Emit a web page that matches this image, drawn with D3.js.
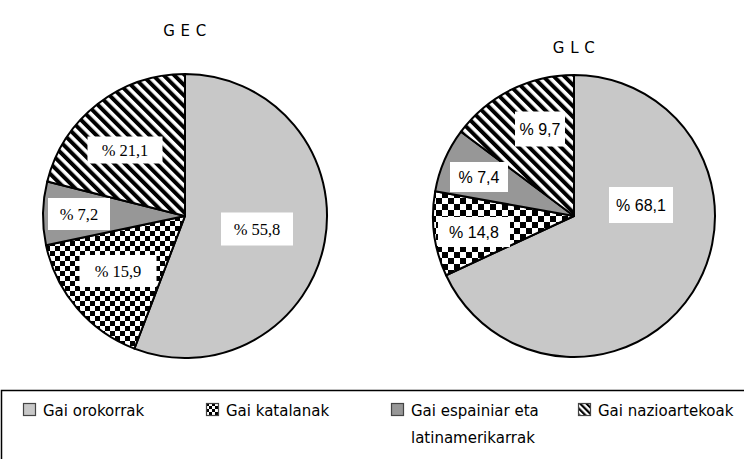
<!DOCTYPE html>
<html><head><meta charset="utf-8">
<script src="https://cdn.jsdelivr.net/npm/d3@7"></script>
<style>html,body{margin:0;padding:0;background:#fff;}svg{display:block;}</style>
</head><body>
<svg id="c" width="744" height="459"></svg>
<script>
// ---- data ----
const categories = ["Gai orokorrak", "Gai katalanak", "Gai espainiar eta latinamerikarrak", "Gai nazioartekoak"];
const legendLines = [["Gai orokorrak"], ["Gai katalanak"], ["Gai espainiar eta", "latinamerikarrak"], ["Gai nazioartekoak"]];
const chartTitles = ["G E C", "G L C"];
// slice sizes as drawn in the picture
const gecValues = [55.8, 15.9, 7.2, 21.1];
const glcValues = [68.1, 9.7, 7.4, 14.8];
// label texts as printed in the picture
const gecLabels = ["% 55,8", "% 15,9", "% 7,2", "% 21,1"];
const glcLabels = ["% 68,1", "% 14,8", "% 7,4", "% 9,7"];

// ---- layout ----
const svg = d3.select("#c");
const defs = svg.append("defs");

function checker(id, s) {
  const p = defs.append("pattern").attr("id", id).attr("patternUnits", "userSpaceOnUse")
    .attr("width", 2 * s).attr("height", 2 * s);
  p.append("rect").attr("width", 2 * s).attr("height", 2 * s).attr("fill", "#fff");
  p.append("rect").attr("width", s).attr("height", s).attr("fill", "#000");
  p.append("rect").attr("x", s).attr("y", s).attr("width", s).attr("height", s).attr("fill", "#000");
}
function stripes(id, s, w) {
  const p = defs.append("pattern").attr("id", id).attr("patternUnits", "userSpaceOnUse")
    .attr("width", s).attr("height", s).attr("patternTransform", "rotate(-45)");
  p.append("rect").attr("width", s).attr("height", s).attr("fill", "#fff");
  p.append("rect").attr("width", w).attr("height", s).attr("fill", "#000");
}
checker("chk1", 5);
checker("chk2", 6);
checker("chkL", 3);
stripes("str1", 7.5, 4);
stripes("str2", 7.5, 4);
stripes("strL", 4.5, 2.2);

const fills1 = ["#c8c8c8", "url(#chk1)", "#979797", "url(#str1)"];
const fills2 = ["#c8c8c8", "url(#chk2)", "#979797", "url(#str2)"];
const fillsL = ["#c8c8c8", "url(#chkL)", "#979797", "url(#strL)"];

// label boxes: [dx, dy, width, height] from the pie centre
const pies = [
  {cx: 185, cy: 216, r: 142, values: gecValues, labels: gecLabels, fills: fills1,
   font: "'Liberation Serif', 'Times New Roman', serif", fs: 16.5,
   title: chartTitles[0], ty: 36,
   lab: [[72, 13, 72, 33], [-67, 55, 77, 32], [-106, -2, 62, 32], [-60, -66, 75, 27]]},
  {cx: 574, cy: 216, r: 141, values: glcValues, labels: glcLabels, fills: fills2,
   font: "'Liberation Sans', Arial, sans-serif", fs: 16,
   title: chartTitles[1], ty: 53,
   lab: [[67, -11, 64, 36], [-100, 16, 72, 30], [-95, -39, 58, 30], [-34, -87, 50, 35]]}
];

const pieGen = d3.pie().sort(null).value(d => d);

pies.forEach(p => {
  const g = svg.append("g").attr("transform", `translate(${p.cx},${p.cy})`);
  const arc = d3.arc().innerRadius(0).outerRadius(p.r);
  const arcs = pieGen(p.values);
  g.selectAll("path.slice").data(arcs).join("path").attr("class", "slice")
    .attr("d", arc).attr("fill", (d, i) => p.fills[i])
    .attr("stroke", "#000").attr("stroke-width", 2).attr("stroke-linejoin", "round");
  const lg = g.selectAll("g.lab").data(arcs).join("g").attr("class", "lab")
    .attr("transform", (d, i) => `translate(${p.lab[i][0]},${p.lab[i][1]})`);
  lg.append("rect").attr("x", (d, i) => -p.lab[i][2] / 2).attr("y", (d, i) => -p.lab[i][3] / 2)
    .attr("width", (d, i) => p.lab[i][2]).attr("height", (d, i) => p.lab[i][3]).attr("fill", "#fff");
  lg.append("text").attr("text-anchor", "middle").attr("dy", "0.35em")
    .style("font-family", p.font).style("font-size", p.fs + "px").attr("fill", "#000")
    .text((d, i) => p.labels[i]);
  svg.append("text").attr("x", p.cx).attr("y", p.ty).attr("text-anchor", "middle")
    .style("font-family", "'DejaVu Sans', sans-serif").style("font-size", "15px")
    .style("letter-spacing", "0.5px")
    .text(p.title);
});

// legend
svg.append("rect").attr("x", 1.5).attr("y", 390.5).attr("width", 800).attr("height", 100)
  .attr("fill", "none").attr("stroke", "#000").attr("stroke-width", 1.5);
const legX = [23, 206, 391, 578];
const lgs = svg.selectAll("g.leg").data(categories).join("g").attr("class", "leg")
  .attr("transform", (d, i) => `translate(${legX[i]},403)`);
lgs.append("rect").attr("x", 0.5).attr("y", 0.5).attr("width", 12).attr("height", 12)
  .attr("fill", (d, i) => fillsL[i]).attr("stroke", "#444").attr("stroke-width", 1.2);
lgs.each(function(d, i) {
  const t = d3.select(this).append("text").attr("x", 20).attr("y", 12.5)
    .style("font-family", "'DejaVu Sans', sans-serif").style("font-size", "15px").attr("fill", "#000");
  legendLines[i].forEach((line, k) => {
    t.append("tspan").attr("x", 20).attr("dy", k === 0 ? 0 : 27).text(line);
  });
});
</script>
</body></html>
